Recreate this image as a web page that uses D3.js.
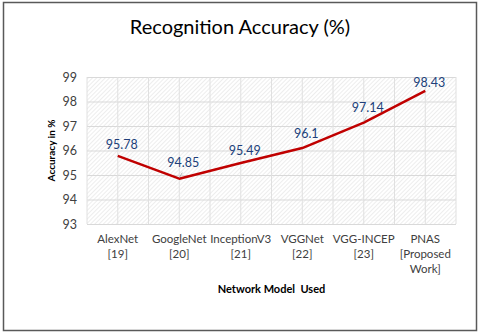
<!DOCTYPE html>
<html>
<head>
<meta charset="utf-8">
<script src="https://cdn.jsdelivr.net/npm/d3@7"></script>
<style>
  body { margin: 0; background: #fff; }
  svg { display: block; font-family: Lato, "Open Sans", sans-serif; }
</style>
</head>
<body>
<svg id="chart"></svg>
<script>
// chart data
const models = ["AlexNet [19]", "GoogleNet [20]", "InceptionV3 [21]", "VGGNet [22]", "VGG-INCEP [23]", "PNAS [Proposed Work]"];
const modelLines = [["AlexNet", "[19]"], ["GoogleNet", "[20]"], ["InceptionV3", "[21]"], ["VGGNet", "[22]"], ["VGG-INCEP", "[23]"], ["PNAS", "[Proposed", "Work]"]];
const accuracy = [95.78, 94.85, 95.49, 96.1, 97.14, 98.43];
const accuracyLabels = ["95.78", "94.85", "95.49", "96.1", "97.14", "98.43"];
const yTicks = [93, 94, 95, 96, 97, 98, 99];

const width = 480, height = 335;
const plotLeft = 87, plotRight = 456, plotTop = 77, plotBottom = 224;

const svg = d3.select("#chart").attr("width", width).attr("height", height);

// hatch pattern for plot background
const defs = svg.append("defs");
const pat = defs.append("pattern")
    .attr("id", "hatch")
    .attr("patternUnits", "userSpaceOnUse")
    .attr("width", 3).attr("height", 3)
    .attr("patternTransform", "rotate(45)");
pat.append("rect").attr("width", 3).attr("height", 3).attr("fill", "#ffffff");
pat.append("line")
    .attr("x1", 0).attr("y1", 0).attr("x2", 0).attr("y2", 3)
    .attr("stroke", "#e2e2e2").attr("stroke-width", 1.2);

// outer frame
svg.append("rect")
    .attr("x", 3.5).attr("y", 2.5)
    .attr("width", 473).attr("height", 328)
    .attr("fill", "#fff")
    .attr("stroke", "#595959")
    .attr("stroke-width", 1.5);

const x = d3.scaleBand()
    .domain(models)
    .range([plotLeft, plotRight]);
const y = d3.scaleLinear()
    .domain([93, 99])
    .range([plotBottom, plotTop]);

svg.append("rect")
    .attr("x", plotLeft).attr("y", plotTop)
    .attr("width", plotRight - plotLeft).attr("height", plotBottom - plotTop)
    .attr("fill", "url(#hatch)");

// horizontal grid
svg.append("g")
    .attr("transform", "translate(" + plotLeft + ",0)")
    .call(d3.axisLeft(y).tickValues(yTicks).tickSize(-(plotRight - plotLeft)).tickFormat(""))
    .call(g => g.select(".domain").remove())
    .call(g => g.selectAll("line").attr("stroke", "#d9d9d9").attr("stroke-width", 1));

// vertical grid at category edges and centres
const xEdges = models.map(m => x(m)).concat([plotRight]);
const xCentres = models.map(m => x(m) + x.bandwidth() / 2);
svg.append("g")
    .selectAll("line")
    .data(xEdges.concat(xCentres))
    .join("line")
    .attr("x1", d => d).attr("x2", d => d)
    .attr("y1", plotTop).attr("y2", plotBottom)
    .attr("stroke", "#e0e0e0")
    .attr("stroke-width", 1);

// y axis labels
svg.append("g")
    .attr("transform", "translate(" + (plotLeft - 10) + ",0)")
    .call(d3.axisLeft(y).tickValues(yTicks).tickSize(0).tickPadding(0).tickFormat(d3.format("d")))
    .call(g => g.select(".domain").remove())
    .call(g => g.selectAll("text")
        .attr("font-family", "Lato, sans-serif")
        .attr("font-size", 12.5)
        .attr("fill", "#404040"));

// x axis labels (multi-line)
const xl = svg.append("g")
    .selectAll("text")
    .data(models)
    .join("text")
    .attr("x", d => x(d) + x.bandwidth() / 2)
    .attr("y", 243)
    .attr("text-anchor", "middle")
    .attr("font-size", 11.5)
    .attr("fill", "#404040");
xl.each(function (d, i) {
    d3.select(this).selectAll("tspan")
        .data(modelLines[i])
        .join("tspan")
        .attr("x", x(d) + x.bandwidth() / 2)
        .attr("dy", (t, j) => j === 0 ? 0 : 15)
        .text(t => t);
});

// line
const pts = models.map((m, i) => ({ m: m, v: accuracy[i], label: accuracyLabels[i] }));
const line = d3.line()
    .x(d => x(d.m) + x.bandwidth() / 2)
    .y(d => y(d.v));
svg.append("path")
    .datum(pts)
    .attr("fill", "none")
    .attr("stroke", "#c00000")
    .attr("stroke-width", 2.5)
    .attr("stroke-linejoin", "round")
    .attr("d", line);

// small leader lines for two labels
svg.append("g")
    .selectAll("line")
    .data([pts[1], pts[4]])
    .join("line")
    .attr("x1", d => x(d.m) + x.bandwidth() / 2)
    .attr("y1", d => y(d.v) - 1)
    .attr("x2", d => x(d.m) + x.bandwidth() / 2 + 3)
    .attr("y2", d => y(d.v) - 6)
    .attr("stroke", "#a6a6a6")
    .attr("stroke-width", 0.8);

// data labels
svg.append("g")
    .selectAll("text")
    .data(pts)
    .join("text")
    .attr("x", d => x(d.m) + x.bandwidth() / 2 + 4)
    .attr("y", (d, i) => y(d.v) - [7, 12, 8, 10, 11, 4][i])
    .attr("text-anchor", "middle")
    .attr("font-size", 12.5)
    .attr("fill", "#203f7a")
    .text(d => d.label);

// title
svg.append("text")
    .attr("x", 240).attr("y", 34)
    .attr("text-anchor", "middle")
    .attr("font-size", 20)
    .attr("fill", "#000")
    .text("Recognition Accuracy (%)");

// axis titles
svg.append("text")
    .attr("transform", "translate(55," + ((plotTop + plotBottom) / 2) + ") rotate(-90)")
    .attr("text-anchor", "middle")
    .attr("font-size", 10)
    .attr("font-weight", "bold")
    .attr("fill", "#000")
    .text("Accuracy in %");

svg.append("text")
    .attr("x", (plotLeft + plotRight) / 2).attr("y", 293)
    .attr("text-anchor", "middle")
    .attr("font-size", 11)
    .attr("font-weight", "bold")
    .attr("fill", "#000")
    .style("white-space", "pre")
    .text("Network Model  Used");
</script>
</body>
</html>
